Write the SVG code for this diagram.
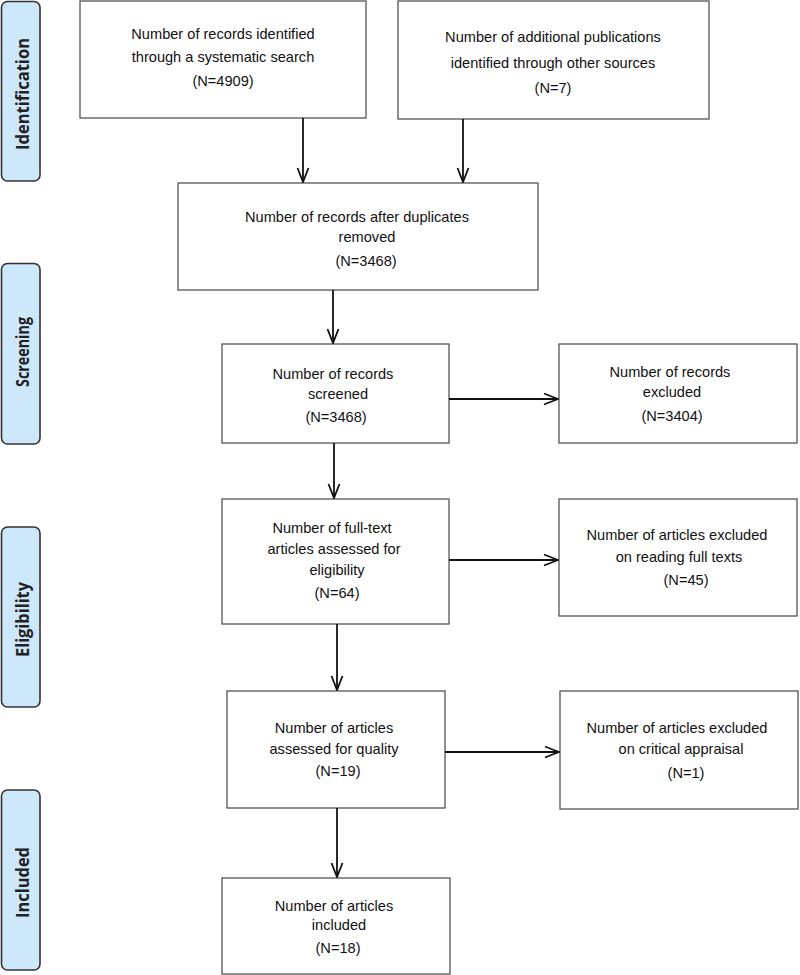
<svg xmlns="http://www.w3.org/2000/svg" width="800" height="975" viewBox="0 0 800 975">
<style>
.box{fill:#fff;stroke:#555;stroke-width:1.3}
.stage{fill:#cde7fb;stroke:#333;stroke-width:1.6}
.t{font-family:"Liberation Sans",Arial,sans-serif;font-size:14.6px;fill:#111;text-anchor:middle}
.s{font-family:"Open Sans","DejaVu Sans",sans-serif;font-weight:bold;font-size:17px;fill:#222;text-anchor:middle}
.c{fill:none;stroke:#111;stroke-width:1.8}
</style>
<defs>
<marker id="ah" markerUnits="userSpaceOnUse" markerWidth="16" markerHeight="14" viewBox="-15 -7 16 14" refX="0" refY="0" orient="auto">
<path d="M-14,-5.5 L0,0 L-14,5.5" fill="none" stroke="#111" stroke-width="1.8"/>
</marker>
</defs>
<rect width="800" height="975" fill="#fff"/>

<g id="stage-identification">
<rect class="stage" x="1.5" y="1.5" width="38.5" height="179.5" rx="6"/>
<text class="s" transform="translate(28.5,94) rotate(-90)" textLength="112" lengthAdjust="spacingAndGlyphs">Identification</text>
</g>
<g id="stage-screening">
<rect class="stage" x="1.5" y="263.5" width="38.5" height="180.5" rx="6"/>
<text class="s" transform="translate(28.5,352) rotate(-90)" textLength="70" lengthAdjust="spacingAndGlyphs">Screening</text>
</g>
<g id="stage-eligibility">
<rect class="stage" x="1.5" y="527" width="38.5" height="180" rx="6"/>
<text class="s" transform="translate(28.5,619.5) rotate(-90)" textLength="75" lengthAdjust="spacingAndGlyphs">Eligibility</text>
</g>
<g id="stage-included">
<rect class="stage" x="1.5" y="790" width="38.5" height="180" rx="6"/>
<text class="s" transform="translate(28.5,882.5) rotate(-90)" textLength="71" lengthAdjust="spacingAndGlyphs">Included</text>
</g>

<g id="n-search">
<rect class="box" x="80" y="1" width="286" height="117"/>
<text class="t" x="223" y="39">Number of records identified</text>
<text class="t" x="223" y="62">through a systematic search</text>
<text class="t" x="223" y="86">(N=4909)</text>
</g>
<g id="n-other">
<rect class="box" x="398" y="1" width="311" height="118"/>
<text class="t" x="553" y="42">Number of additional publications</text>
<text class="t" x="553" y="68">identified through other sources</text>
<text class="t" x="553" y="93">(N=7)</text>
</g>
<g id="n-dedup">
<rect class="box" x="178" y="183" width="360" height="107"/>
<text class="t" x="357" y="222">Number of records after duplicates</text>
<text class="t" x="367" y="242">removed</text>
<text class="t" x="366" y="266">(N=3468)</text>
</g>
<g id="n-screened">
<rect class="box" x="222" y="344" width="227" height="99"/>
<text class="t" x="333" y="379">Number of records</text>
<text class="t" x="338" y="399">screened</text>
<text class="t" x="336" y="422">(N=3468)</text>
</g>
<g id="n-excluded">
<rect class="box" x="559" y="344" width="238" height="99"/>
<text class="t" x="670" y="377">Number of records</text>
<text class="t" x="672" y="397">excluded</text>
<text class="t" x="672" y="421">(N=3404)</text>
</g>
<g id="n-fulltext">
<rect class="box" x="222" y="499" width="227" height="125"/>
<text class="t" x="332" y="533">Number of full-text</text>
<text class="t" x="334" y="554">articles assessed for</text>
<text class="t" x="337" y="575">eligibility</text>
<text class="t" x="337" y="598">(N=64)</text>
</g>
<g id="n-excl-fulltext">
<rect class="box" x="559" y="499" width="238" height="117"/>
<text class="t" x="677" y="540">Number of articles excluded</text>
<text class="t" x="679" y="562">on reading full texts</text>
<text class="t" x="686" y="585">(N=45)</text>
</g>
<g id="n-quality">
<rect class="box" x="227" y="691" width="218" height="117"/>
<text class="t" x="334" y="733">Number of articles</text>
<text class="t" x="334" y="754">assessed for quality</text>
<text class="t" x="338" y="776">(N=19)</text>
</g>
<g id="n-excl-appraisal">
<rect class="box" x="560" y="691" width="238" height="118"/>
<text class="t" x="677" y="733">Number of articles excluded</text>
<text class="t" x="681" y="754">on critical appraisal</text>
<text class="t" x="686" y="778">(N=1)</text>
</g>
<g id="n-included">
<rect class="box" x="222" y="878" width="228" height="96"/>
<text class="t" x="334" y="911">Number of articles</text>
<text class="t" x="339" y="930">included</text>
<text class="t" x="338" y="953">(N=18)</text>
</g>

<g id="connectors">
<line class="c" x1="303" y1="118" x2="303" y2="182" marker-end="url(#ah)"/>
<line class="c" x1="463" y1="119" x2="463" y2="182" marker-end="url(#ah)"/>
<line class="c" x1="333" y1="290" x2="333" y2="343" marker-end="url(#ah)"/>
<line class="c" x1="449" y1="399" x2="558" y2="399" marker-end="url(#ah)"/>
<line class="c" x1="334" y1="443" x2="334" y2="498" marker-end="url(#ah)"/>
<line class="c" x1="449" y1="560" x2="558" y2="560" marker-end="url(#ah)"/>
<line class="c" x1="337" y1="624" x2="337" y2="690" marker-end="url(#ah)"/>
<line class="c" x1="445" y1="752" x2="559" y2="752" marker-end="url(#ah)"/>
<line class="c" x1="337" y1="808" x2="337" y2="877" marker-end="url(#ah)"/>
</g>
</svg>
